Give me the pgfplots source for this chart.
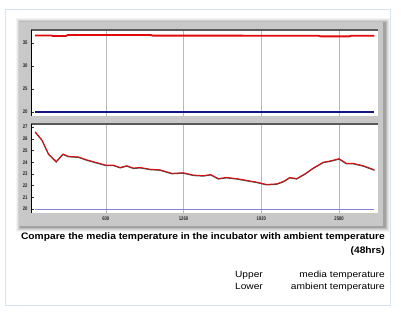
\documentclass[border=0pt]{standalone}
\usepackage{pgfplots}
\pgfplotsset{compat=1.18}
\usepackage{fontspec}
\setmainfont{Liberation Sans}
\definecolor{frameblue}{RGB}{214,226,240}
\definecolor{panelgray}{RGB}{200,200,200}
\definecolor{topgray}{RGB}{90,90,90}
\definecolor{navy}{RGB}{20,20,130}
\definecolor{lightblue}{RGB}{130,130,220}
\definecolor{myred}{RGB}{225,10,10}
\begin{document}
\begin{tikzpicture}
\useasboundingbox (0pt,0pt) rectangle (401pt,329pt);
\draw[frameblue, line width=1pt, fill=white] (5.5pt,24pt) rectangle (390.5pt,319.5pt);
\foreach \i/\o in {5/0.04,4/0.06,3/0.08,2/0.10,1/0.14} {
  \fill[black,opacity=\o] ({(19-\i+1.5)*1pt},{(103-\i-1.5)*1pt}) rectangle ({(383+\i+1.5)*1pt},{(307+\i-1.5)*1pt});
}
\fill[panelgray] (19pt,103pt) rectangle (383pt,307pt);
\pgfplotsset{
  every axis/.append style={
    scale only axis, width=347pt, anchor=south west,
    xmin=-35, xmax=2910,
    axis background/.style={fill=white},
    xtick={600,1260,1920,2580},
    xmajorgrids, grid style={gray!55, line width=0.5pt},
    axis line style={draw=none},
    tick style={black!80, line width=0.3pt},
    x tick style={draw=none},
    ytick pos=left, yticklabel pos=left, xticklabel pos=lower,
    major tick length=2.5pt, minor tick length=1.2pt,
    tick label style={font=\bfseries\fontsize{5.3}{6}\selectfont, text=black!85},
    yticklabel={\scalebox{0.8}[1]{\pgfmathprintnumber{\tick}}},
    /pgf/number format/assume math mode=true,
    /pgf/number format/1000 sep={},
    clip=false,
  }
}
% upper
\begin{axis}[at={(31pt,213pt)}, height=86pt, ymin=19.13, ymax=37.8,
  ytick={20,25,30,35}, minor y tick num=4, xticklabels={{},{},{},{}}]
\addplot[navy, line width=1.6pt] coordinates {(0,20) (2880,20)};
\addplot[myred, line width=1.8pt, line join=round] coordinates {
(0,36.62) (135,36.62) (150,36.5) (262,36.5) (277,36.7) (983,36.7) (998,36.58) (1760,36.58) (1775,36.54) (2409,36.54) (2424,36.42) (2664,36.42) (2679,36.54) (2880,36.54)};
\draw[topgray, line width=1.6pt] (rel axis cs:0,1) -- (rel axis cs:1,1);
\draw[black, line width=0.6pt] (rel axis cs:0,0) -- (rel axis cs:0,1);
\end{axis}
% lower
\begin{axis}[at={(31pt,116pt)}, height=89pt, ymin=19.66, ymax=27.26,
  ytick={20,21,22,23,24,25,26,27}, minor y tick num=3,
  xticklabel={\scalebox{0.8}[1]{\pgfmathprintnumber{\tick}}},
  xticklabel style={yshift=-0.5pt}]
\addplot[lightblue, line width=0.7pt] coordinates {(0,20) (2880,20)};
\pgfplotstableread{
x y
0 26.6
58 25.9
114 24.7
179 24.05
236 24.7
284 24.5
368 24.45
439 24.2
510 24.0
600 23.75
665 23.75
722 23.55
778 23.7
834 23.5
891 23.55
976 23.4
1060 23.35
1159 23.05
1258 23.1
1343 22.9
1428 22.85
1490 22.95
1555 22.6
1625 22.7
1710 22.6
1795 22.45
1880 22.3
1964 22.1
2049 22.15
2106 22.35
2162 22.7
2219 22.6
2289 23.0
2360 23.5
2445 24.0
2501 24.1
2580 24.3
2642 23.9
2699 23.9
2784 23.7
2880 23.35
}\lowdata
\addplot[black!70, line width=1.1pt, yshift=-0.5pt] table {\lowdata};
\addplot[myred, line width=0.9pt] table {\lowdata};
\draw[topgray, line width=1.2pt] (rel axis cs:0,1) -- (rel axis cs:1,1);
\draw[black, line width=0.6pt] (rel axis cs:0,0) -- (rel axis cs:0,1);
\end{axis}
\node[anchor=base east, font=\bfseries\fontsize{9.4}{11}\selectfont, inner sep=0pt] at (385pt,89pt) {\scalebox{1.088}[1]{Compare the media temperature in the incubator with ambient temperature}};
\node[anchor=base east, font=\bfseries\fontsize{9.4}{11}\selectfont, inner sep=0pt] at (385pt,75pt) {\scalebox{1.088}[1]{(48hrs)}};
\node[anchor=base east, font=\fontsize{9}{10}\selectfont, inner sep=0pt] at (263pt,52pt) {\scalebox{1.13}[1]{Upper}};
\node[anchor=base east, font=\fontsize{9}{10}\selectfont, inner sep=0pt] at (263pt,40pt) {\scalebox{1.13}[1]{Lower}};
\node[anchor=base east, font=\fontsize{9}{10}\selectfont, inner sep=0pt] at (385pt,52pt) {\scalebox{1.13}[1]{media temperature}};
\node[anchor=base east, font=\fontsize{9}{10}\selectfont, inner sep=0pt] at (385pt,40pt) {\scalebox{1.13}[1]{ambient temperature}};
\end{tikzpicture}
\end{document}
